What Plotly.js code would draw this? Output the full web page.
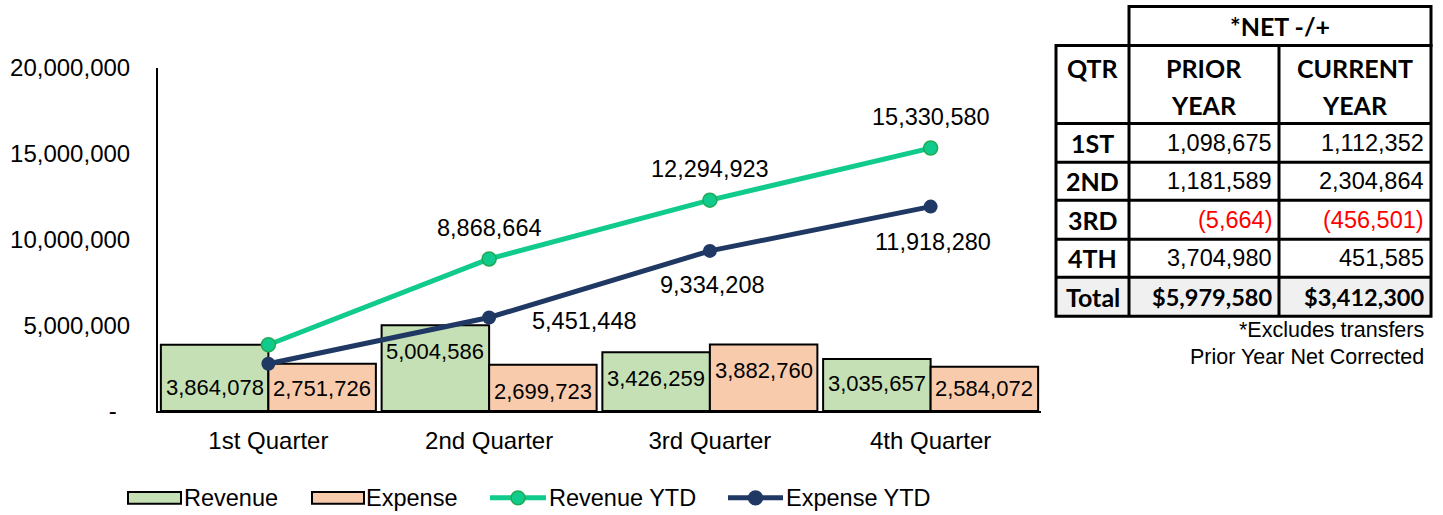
<!DOCTYPE html>
<html><head><meta charset="utf-8">
<script src="https://cdn.plot.ly/plotly-3.0.1.min.js"></script>
<style>html,body{margin:0;padding:0;background:#fff}</style>
</head><body><div id="chart" style="width:1443px;height:515px"></div>
<script>
// ---- chart data ----
const categories = ['1st Quarter', '2nd Quarter', '3rd Quarter', '4th Quarter'];
const revenue = [3864078, 5004586, 3426259, 3035657];
const expense = [2751726, 2699723, 3882760, 2584072];
const revenueYTD = [3864078, 8868664, 12294923, 15330580];
const expenseYTD = [2751726, 5451448, 9334208, 11918280];
const yTickVals = [0, 5000000, 10000000, 15000000, 20000000];
const yTickText = ['-\u00a0\u00a0', '5,000,000', '10,000,000', '15,000,000', '20,000,000'];
const seriesNames = ['Revenue', 'Expense', 'Revenue YTD', 'Expense YTD'];

// ---- table data ----
const tableTitle = '*NET -/+';
const tableHeaders = ['QTR', 'PRIOR<br>YEAR', 'CURRENT<br>YEAR'];
const tableQtr = ['1ST', '2ND', '3RD', '4TH'];
const priorYear = [1098675, 1181589, -5664, 3704980];
const currentYear = [1112352, 2304864, -456501, 451585];
const totalLabel = 'Total';
const notes = ['*Excludes transfers', 'Prior Year Net Corrected'];

const fmt = v => v.toLocaleString('en-US');
const fmtAcc = v => v < 0 ? '(' + fmt(-v) + ')' : fmt(v);
const sum = a => a.reduce((s, v) => s + v, 0);

const FONT = 'Liberation Sans, Arial, sans-serif';
const BOLD = 'Lato, Carlito, Liberation Sans, sans-serif';

// styles
const C_REV = '#c5e0b4', C_EXP = '#f8cbad', C_RYTD = '#10cb8c', C_EYTD = '#203864';

// plot area in pixels
const L = 158, R = 1041, T = 67.5, B = 411;
const px = x => (x - L) / (R - L);
const py = y => (B - y) / (B - T);
const BARGAP = 0.026;
const barHalf = (R - L) / categories.length * (1 - BARGAP) / 4; // offset of each bar centre from category centre

const traces = [
  {type: 'bar', name: seriesNames[0], x: categories, y: revenue, textposition: 'none',
   marker: {color: C_REV, line: {color: '#000', width: 2}}},
  {type: 'bar', name: seriesNames[1], x: categories, y: expense, textposition: 'none',
   marker: {color: C_EXP, line: {color: '#000', width: 2}}},
  {type: 'scatter', mode: 'lines+markers', name: seriesNames[2], x: categories, y: revenueYTD,
   line: {color: C_RYTD, width: 5}, marker: {size: 14, color: C_RYTD, line: {color: '#1faa55', width: 1.5}}},
  {type: 'scatter', mode: 'lines+markers', name: seriesNames[3], x: categories, y: expenseYTD,
   line: {color: C_EYTD, width: 5}, marker: {size: 14, color: C_EYTD}}
];

const annotations = [];
// bar labels (inside, just below bar top)
const revLabelDrop = [43, 26, 26, 25];
const expLabelDrop = [25, 27, 26, 22];
revenue.forEach((v, i) => annotations.push({xref: 'x', yref: 'y', x: categories[i], y: v, text: fmt(v), showarrow: false,
  xshift: -barHalf, yshift: -revLabelDrop[i], font: {family: FONT, size: 22, color: '#000'}}));
expense.forEach((v, i) => annotations.push({xref: 'x', yref: 'y', x: categories[i], y: v, text: fmt(v), showarrow: false,
  xshift: barHalf, yshift: -expLabelDrop[i], font: {family: FONT, size: 22, color: '#000'}}));
// line labels
revenueYTD.forEach((v, i) => {
  if (i === 0) return;
  annotations.push({xref: 'x', yref: 'y', x: categories[i], y: v, text: fmt(v), showarrow: false,
    yshift: 31, font: {family: FONT, size: 23.5, color: '#000'}});
});
const expShift = [null, [95, -3], [3, -34], [2, -35]];
expenseYTD.forEach((v, i) => {
  if (i === 0) return;
  annotations.push({xref: 'x', yref: 'y', x: categories[i], y: v, text: fmt(v), showarrow: false,
    xshift: expShift[i][0], yshift: expShift[i][1], font: {family: FONT, size: 23.5, color: '#000'}});
});

const shapes = [];
// ---- custom legend ----
const LY = 498;
const legFont = {family: FONT, size: 23.5, color: '#000'};
const legRect = (x0, x1, fill) => shapes.push({type: 'rect', xref: 'paper', yref: 'paper', x0: px(x0), x1: px(x1),
  y0: py(LY + 6), y1: py(LY - 6), fillcolor: fill, line: {color: '#000', width: 2}});
const legLine = (x0, x1, col, outline) => {
  shapes.push({type: 'line', xref: 'paper', yref: 'paper', x0: px(x0), x1: px(x1), y0: py(LY), y1: py(LY), line: {color: col, width: 5}});
  const xc = (x0 + x1) / 2;
  shapes.push({type: 'circle', xref: 'paper', yref: 'paper', x0: px(xc - 7), x1: px(xc + 7), y0: py(LY + 7), y1: py(LY - 7),
    fillcolor: col, line: {color: outline, width: 1.5}});
};
const legText = (x, t) => annotations.push({xref: 'paper', yref: 'paper', x: px(x), y: py(LY), text: t, showarrow: false,
  xanchor: 'left', yanchor: 'middle', font: legFont});
legRect(128, 181, C_REV); legText(182, seriesNames[0]);
legRect(312, 364, C_EXP); legText(364, seriesNames[1]);
legLine(490, 546, C_RYTD, '#1faa55'); legText(547, seriesNames[2]);
legLine(728, 783, C_EYTD, C_EYTD); legText(784, seriesNames[3]);

// ---- table ----
const BW = 3;
const colX = [1056, 1129, 1279, 1431];
const rowY = [45, 123, 162, 200, 239, 277, 316];
const titleTop = 6;
shapes.push({type: 'rect', xref: 'paper', yref: 'paper', x0: px(colX[0]), x1: px(colX[3]), y0: py(rowY[5]), y1: py(rowY[6]),
  fillcolor: '#f0f0f0', line: {width: 0}, layer: 'below'});
shapes.push({type: 'rect', xref: 'paper', yref: 'paper', x0: px(colX[1]), x1: px(colX[3]), y0: py(rowY[0]), y1: py(titleTop),
  line: {color: '#000', width: BW}});
shapes.push({type: 'rect', xref: 'paper', yref: 'paper', x0: px(colX[0]), x1: px(colX[3]), y0: py(rowY[6]), y1: py(rowY[0]),
  line: {color: '#000', width: BW}});
[colX[1], colX[2]].forEach(x => shapes.push({type: 'line', xref: 'paper', yref: 'paper', x0: px(x), x1: px(x), y0: py(rowY[0]), y1: py(rowY[6]), line: {color: '#000', width: BW}}));
rowY.slice(1, 6).forEach(y => shapes.push({type: 'line', xref: 'paper', yref: 'paper', x0: px(colX[0]), x1: px(colX[3]), y0: py(y), y1: py(y), line: {color: '#000', width: BW}}));

const colC = [(colX[0] + colX[1]) / 2, (colX[1] + colX[2]) / 2, (colX[2] + colX[3]) / 2];
const tAnn = (x, y, text, opts) => annotations.push(Object.assign({xref: 'paper', yref: 'paper', x: px(x), y: py(y), text: text,
  showarrow: false, xanchor: 'center', yanchor: 'middle'}, opts));
const hFont = {family: BOLD, size: 25, color: '#000'};
tAnn((colX[1] + colX[3]) / 2, (titleTop + rowY[0]) / 2, '<b>' + tableTitle + '</b>', {font: hFont});
tAnn(colC[0], 67, '<b>' + tableHeaders[0] + '</b>', {font: hFont});
tableHeaders.slice(1).forEach((h, j) => {
  const parts = h.split('<br>');
  tAnn(colC[j + 1], 67, '<b>' + parts[0] + '</b>', {font: hFont});
  tAnn(colC[j + 1], 105, '<b>' + parts[1] + '</b>', {font: hFont});
});
tableQtr.forEach((q, i) => {
  const yc = (rowY[i + 1] + rowY[i + 2]) / 2;
  tAnn(colC[0], yc, '<b>' + q + '</b>', {font: hFont});
  [priorYear[i], currentYear[i]].forEach((v, j) => {
    tAnn(colX[j + 2] - 5, yc, fmtAcc(v), {xanchor: 'right', font: {family: FONT, size: 23.5, color: v < 0 ? '#ff0000' : '#000'}});
  });
});
{
  const yc = (rowY[5] + rowY[6]) / 2;
  tAnn(colC[0], yc, '<b>' + totalLabel + '</b>', {font: {family: BOLD, size: 25, color: '#000'}});
  [sum(priorYear), sum(currentYear)].forEach((v, j) => {
    tAnn(colX[j + 2] - 5, yc, '<b>$' + fmt(v) + '</b>', {xanchor: 'right', font: {family: BOLD, size: 23.5, color: '#000'}});
  });
}
notes.forEach((n, i) => tAnn(1426, 330 + i * 27, n, {xanchor: 'right', font: {family: FONT, size: 21.5, color: '#000'}}));

const layout = {
  width: 1443, height: 515,
  margin: {l: L, r: 1443 - R, t: T, b: 515 - B, pad: 0, autoexpand: false},
  paper_bgcolor: '#fff', plot_bgcolor: '#fff',
  font: {family: FONT, color: '#000'},
  barmode: 'group', bargap: BARGAP, bargroupgap: 0,
  showlegend: false,
  xaxis: {showline: true, linecolor: '#000', linewidth: 2, ticks: '', showgrid: false, zeroline: false,
    tickfont: {family: FONT, size: 24, color: '#000'}, ticklabelstandoff: 7},
  yaxis: {range: [0, 20000000], showline: true, linecolor: '#000', linewidth: 2, showgrid: false, zeroline: false,
    tickvals: yTickVals, ticktext: yTickText, ticks: '', tickfont: {family: FONT, size: 24, color: '#000'},
    ticklabelstandoff: 21},
  shapes: shapes,
  annotations: annotations,
  hovermode: false
};

Plotly.newPlot('chart', traces, layout, {displayModeBar: false, staticPlot: true});
</script>
</body></html>
